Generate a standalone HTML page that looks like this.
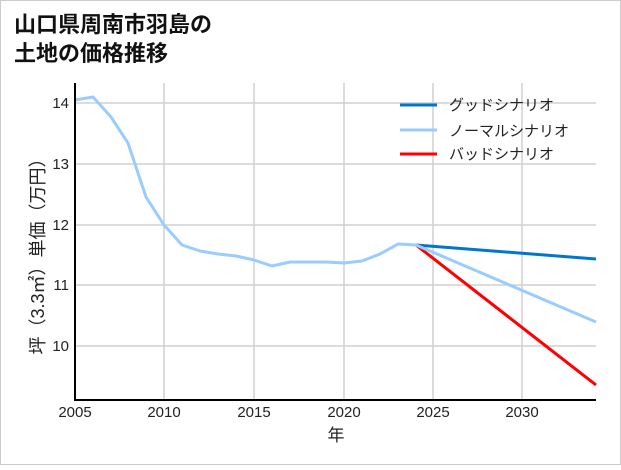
<!DOCTYPE html>
<html><head><meta charset="utf-8"><style>
html,body{margin:0;padding:0;background:#fff}
body{width:621px;height:465px;overflow:hidden}
svg text{font-family:"Liberation Sans","Noto Sans CJK JP",sans-serif}
</style></head><body>
<svg width="621" height="465" viewBox="0 0 621 465" xmlns="http://www.w3.org/2000/svg">
<rect x="0.5" y="0.5" width="620" height="464" fill="#fff" stroke="#ccc"/>
<text x="14" y="32" font-size="22" font-weight="bold" fill="#111">山口県周南市羽島の</text>
<text x="14" y="61" font-size="22" font-weight="bold" fill="#111">土地の価格推移</text>
<g stroke="#d0d0d0" stroke-width="1.5">
<line x1="164" y1="83" x2="164" y2="400"/><line x1="254" y1="83" x2="254" y2="400"/>
<line x1="344" y1="83" x2="344" y2="400"/><line x1="433" y1="83" x2="433" y2="400"/>
<line x1="522" y1="83" x2="522" y2="400"/>
<line x1="75" y1="103" x2="596" y2="103"/><line x1="75" y1="164" x2="596" y2="164"/>
<line x1="75" y1="225" x2="596" y2="225"/><line x1="75" y1="285" x2="596" y2="285"/>
<line x1="75" y1="346" x2="596" y2="346"/>
</g>
<g fill="none" stroke-width="3" stroke-linejoin="round">
<polyline stroke="#0077cc" points="416,245 596,259"/>
<polyline stroke="#ff0000" points="416,245 596,385"/>
<polyline stroke="#99ccff" points="75,100 93,97 111,117 128,143 146,197 164,225 182,245 200,251 218,254 236,256 254,260 272,266 290,262 308,262 326,262 344,263 362,261 380,254 398,244 416,245 596,322"/>
</g>
<line x1="75" y1="83" x2="75" y2="401" stroke="#000" stroke-width="2"/>
<line x1="74" y1="400" x2="596" y2="400" stroke="#000" stroke-width="2"/>
<g font-size="15" fill="#222" text-anchor="end">
<text x="69" y="108">14</text><text x="69" y="169">13</text><text x="69" y="230">12</text>
<text x="69" y="290">11</text><text x="69" y="351">10</text>
</g>
<g font-size="15" fill="#222" text-anchor="middle">
<text x="75" y="417">2005</text><text x="164" y="417">2010</text><text x="254" y="417">2015</text>
<text x="344" y="417">2020</text><text x="433" y="417">2025</text><text x="522" y="417">2030</text>
<text x="336" y="441" font-size="17">年</text>
</g>
<text transform="translate(44,252) rotate(-90)" font-size="18" fill="#222" text-anchor="middle">坪（3.3㎡）単価（万円）</text>
<g font-size="15" fill="#222">
<line x1="400" y1="105" x2="437" y2="105" stroke="#0077cc" stroke-width="3"/>
<text x="449" y="110">グッドシナリオ</text>
<line x1="400" y1="130" x2="437" y2="130" stroke="#99ccff" stroke-width="3"/>
<text x="449" y="136">ノーマルシナリオ</text>
<line x1="400" y1="154" x2="437" y2="154" stroke="#ff0000" stroke-width="3"/>
<text x="449" y="159">バッドシナリオ</text>
</g>
</svg>
</body></html>
